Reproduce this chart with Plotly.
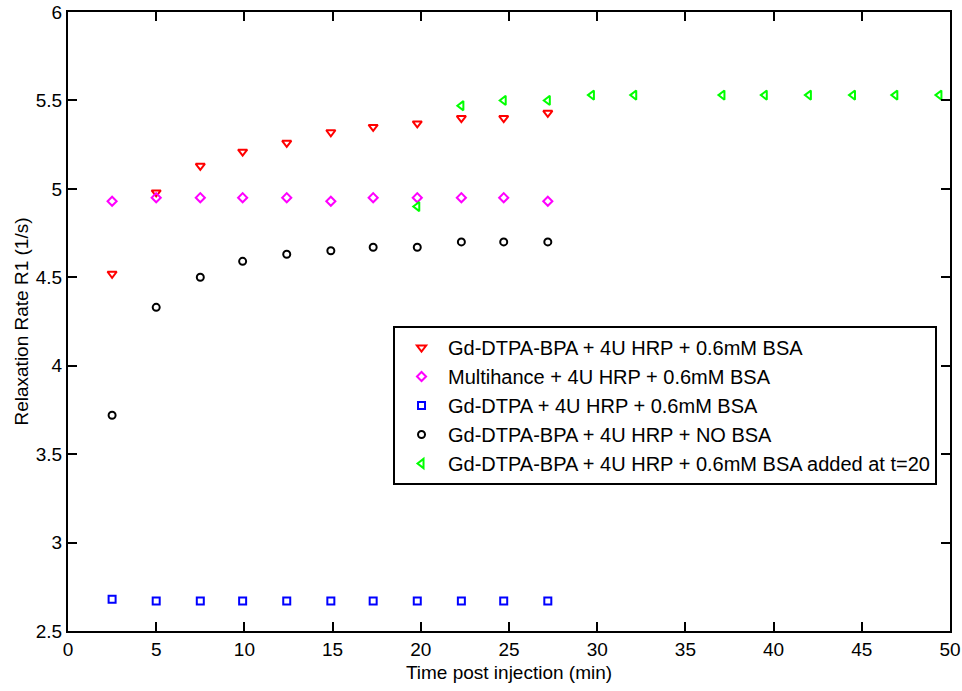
import plotly.graph_objects as go

t_main = [2.5, 5.0, 7.5, 9.9, 12.4, 14.9, 17.3, 19.8, 22.3, 24.7, 27.2]
t_green = [19.8, 22.3, 24.7, 27.2, 29.7, 32.1, 37.1, 39.5, 42.0, 44.5, 46.9, 49.4]

r1_bpa_bsa = [4.52, 4.98, 5.13, 5.21, 5.26, 5.32, 5.35, 5.37, 5.40, 5.40, 5.43]
r1_multihance = [4.93, 4.95, 4.95, 4.95, 4.95, 4.93, 4.95, 4.95, 4.95, 4.95, 4.93]
r1_dtpa = [2.68, 2.67, 2.67, 2.67, 2.67, 2.67, 2.67, 2.67, 2.67, 2.67, 2.67]
r1_bpa_nobsa = [3.72, 4.33, 4.50, 4.59, 4.63, 4.65, 4.67, 4.67, 4.70, 4.70, 4.70]
r1_bpa_bsa_t20 = [4.90, 5.47, 5.50, 5.50, 5.53, 5.53, 5.53, 5.53, 5.53, 5.53, 5.53, 5.53]

names = [
    "Gd-DTPA-BPA + 4U HRP + 0.6mM BSA",
    "Multihance + 4U HRP + 0.6mM BSA",
    "Gd-DTPA + 4U HRP + 0.6mM BSA",
    "Gd-DTPA-BPA + 4U HRP + NO BSA",
    "Gd-DTPA-BPA + 4U HRP + 0.6mM BSA added at t=20",
]

series = [
    (t_main, r1_bpa_bsa, "triangle-down-open", "#ff0000", 8),
    (t_main, r1_multihance, "diamond-open", "#ff00ff", 7),
    (t_main, r1_dtpa, "square-open", "#0000ff", 7),
    (t_main, r1_bpa_nobsa, "circle-open", "#000000", 7),
    (t_green, r1_bpa_bsa_t20, "triangle-left-open", "#00ff00", 8),
]

fig = go.Figure()
for (x, y, sym, col, sz), nm in zip(series, names):
    fig.add_trace(go.Scatter(
        x=x, y=y, mode="markers", name=nm,
        marker=dict(symbol=sym, size=sz, color=col, line=dict(width=2, color=col)),
    ))

FONT = "Liberation Sans, Arial, Helvetica, sans-serif"
axis_common = dict(
    showgrid=False, zeroline=False, showline=True, linecolor="black", linewidth=2,
    mirror="ticks", ticks="inside", ticklen=9, tickwidth=2, tickcolor="black",
    tickfont=dict(family=FONT, size=19, color="black"), automargin=False,
)

fig.update_layout(
    width=962, height=691,
    margin=dict(l=68, r=12, t=12, b=60),
    plot_bgcolor="white", paper_bgcolor="white",
    font=dict(family=FONT, size=19, color="black"),
    xaxis=dict(range=[0, 50], dtick=5, tick0=0,
               title=dict(text="Time post injection (min)", font=dict(size=19), standoff=7),
               **axis_common),
    yaxis=dict(range=[2.5, 6], dtick=0.5, tick0=2.5,
               title=dict(text="Relaxation Rate R1 (1/s)", font=dict(size=19), standoff=2),
               **axis_common),
    legend=dict(x=0.3685, y=0.4927, xanchor="left", yanchor="top",
                bordercolor="black", borderwidth=2, bgcolor="white",
                font=dict(size=20), itemwidth=43),
    showlegend=True,
)

fig.write_html("out.html", config={"displayModeBar": False},
               post_script="document.body.style.margin='0px';")
